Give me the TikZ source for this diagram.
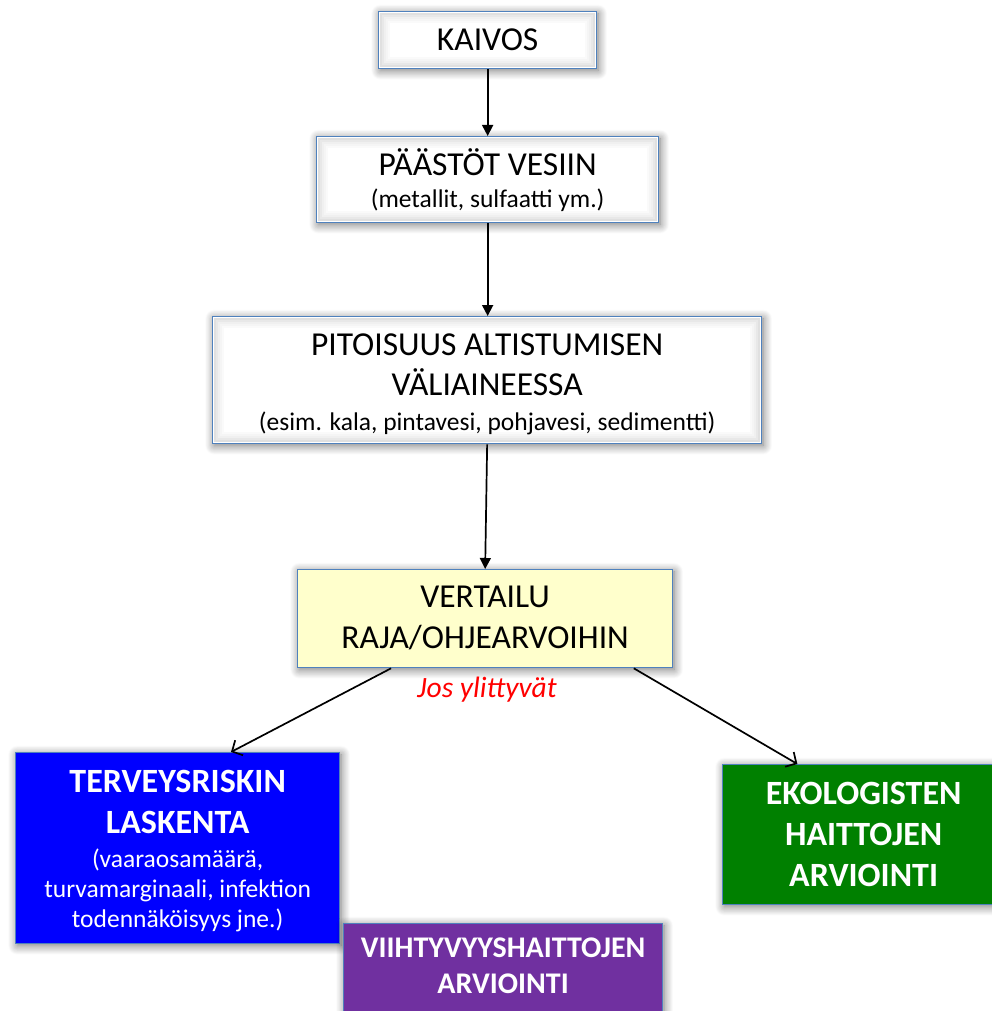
\documentclass[tikz,border=0pt]{standalone}
\usepackage{fontspec}
\setmainfont{Carlito}
\usetikzlibrary{arrows.meta,calc,shadows.blur}
\definecolor{boxline}{HTML}{4F81BD}
\definecolor{paleyellow}{HTML}{FFFFCC}
\definecolor{riskblue}{HTML}{0000FF}
\definecolor{ecogreen}{HTML}{008000}
\definecolor{amenpurple}{HTML}{7030A0}
\newcommand{\mysub}{\fontsize{25.5}{30}\selectfont}
\begin{document}
\begin{tikzpicture}[x=1pt,y=-1pt,
  softshade/.style={blur shadow={shadow xshift=1.5pt,shadow yshift=-2pt,shadow blur radius=9pt,shadow opacity=55,shadow blur steps=12}},
  innerglow/.style={path picture={
    \foreach \d/\o in {2.5/0.12,4.5/0.09,6.5/0.06,8.5/0.04,10.5/0.02}
      \draw[line width=2pt,black,opacity=\o]
        ([shift={(\d,\d)}]path picture bounding box.north west) rectangle
        ([shift={(-\d,-\d)}]path picture bounding box.south east);}},
  flow/.style={draw=boxline,line width=1.3pt,fill=white,softshade,inner sep=0pt,align=center,anchor=north west,
    font=\fontsize{33.5}{40}\selectfont},
  whitebox/.style={flow,innerglow},
  colbox/.style={flow,text=white,font=\fontsize{34}{40}\selectfont\bfseries},
  solidarrow/.style={line width=1.7pt,-{Triangle[width=11pt,length=11pt]}},
  openarrow/.style={line width=1.7pt,-{Straight Barb[width=17pt,length=8pt,line width=1.7pt]}}]
\useasboundingbox (0,0) rectangle (992,1011);
\clip (0,0) rectangle (992,1011);

\node[whitebox,minimum width=218pt,minimum height=57pt,text height=39pt,text depth=18pt] (kaivos) at (378,11) {KAIVOS};
\node[whitebox,minimum width=342pt,minimum height=86pt,text height=71pt,text depth=15pt] (paastot) at (316,136)
  {PÄÄSTÖT VESIIN\\[-8pt]{\mysub (metallit, sulfaatti ym.)}};
\node[whitebox,minimum width=549pt,minimum height=127pt,text height=114pt,text depth=13pt] (pitoisuus) at (212,316)
  {PITOISUUS ALTISTUMISEN\\VÄLIAINEESSA\\[-5pt]{\mysub (esim. kala, pintavesi, pohjavesi, sedimentti)}};
\node[flow,fill=paleyellow,minimum width=375pt,minimum height=98pt,text height=79pt,text depth=19pt] (vertailu) at (297,569)
  {VERTAILU\\[1pt]RAJA/OHJEARVOIHIN};
\node[anchor=base,text=red,font=\fontsize{29.5}{30}\selectfont\itshape] (jos) at (487,697) {Jos ylittyvät};
\node[colbox,fill=riskblue,minimum width=324pt,minimum height=191pt,text height=175pt,text depth=16pt] (terveys) at (15,752)
  {TERVEYSRISKIN\\[1pt]LASKENTA\\[-6pt]{\mysub\mdseries (vaaraosamäärä,}\\[-10pt]{\mysub\mdseries turvamarginaali, infektion}\\[-10pt]{\mysub\mdseries todennäköisyys jne.)}};
\node[colbox,fill=ecogreen,minimum width=282pt,minimum height=140pt,text height=122pt,text depth=18pt] (eko) at (722,764)
  {EKOLOGISTEN\\[1pt]HAITTOJEN\\[1pt]ARVIOINTI};
\node[colbox,fill=amenpurple,minimum width=319pt,minimum height=107pt,text height=70pt,text depth=37pt,
  font=\fontsize{30}{36}\selectfont\bfseries] (viihty) at (343,923)
  {VIIHTYVYYSHAITTOJEN\\ARVIOINTI};

\draw[solidarrow] (kaivos.south) -- (paastot.north);
\draw[solidarrow] (paastot.south) -- (paastot.south |- pitoisuus.north);
\draw[solidarrow] (pitoisuus.south) -- (vertailu.north);
\draw[openarrow] ($(vertailu.south west)!0.25!(vertailu.south east)$) -- ($(terveys.north west)!0.664!(terveys.north east)$);
\draw[openarrow] ($(vertailu.south west)!0.895!(vertailu.south east)$) -- ($(eko.north west)!0.266!(eko.north east)$);
\end{tikzpicture}
\end{document}
